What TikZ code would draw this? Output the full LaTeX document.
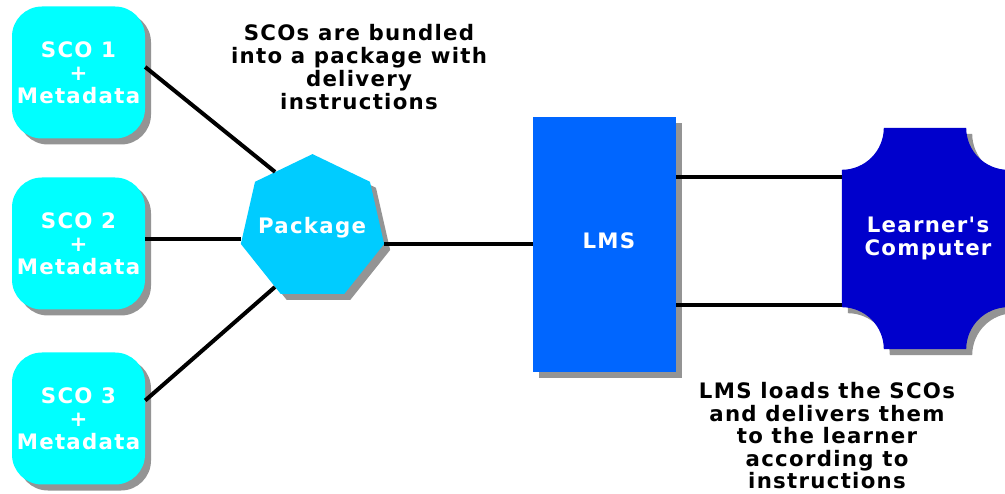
\documentclass[tikz,border=0pt]{standalone}
\usepackage{fontspec}
\newfontfamily\vf[LetterSpace=6,Ligatures=TeXOff,BoldFont={DejaVu Sans Bold}]{DejaVu Sans}
\usetikzlibrary{shapes.geometric,shadows,calc}
\definecolor{scocyan}{RGB}{0,255,255}
\definecolor{pkgblue}{RGB}{0,204,255}
\definecolor{lmsblue}{RGB}{0,102,255}
\definecolor{lcblue}{RGB}{0,0,204}
\begin{document}
\begin{tikzpicture}[x=1pt,y=-1pt,
  txt/.style={font=\vf\bfseries\fontsize{21.3}{23}\selectfont, align=center},
  shad/.style={drop shadow={shadow xshift=6pt,shadow yshift=-6pt,fill=black!42,opacity=1}},
  scobox/.style={txt, shad, fill=scocyan, text=white, rounded corners=30pt,
    minimum width=133pt, minimum height=132pt, inner sep=0pt},
  conn/.style={line width=4pt, black},
]
\useasboundingbox[fill=white] (0,0) rectangle (1005,494);

% SCO boxes
\node[scobox] (sco1) at (78.5,72.5) {SCO 1\\+\\Metadata};
\node[scobox] (sco2) at (78.5,243.5) {SCO 2\\+\\Metadata};
\node[scobox] (sco3) at (78.5,418.5) {SCO 3\\+\\Metadata};

% Package
\node[shad, regular polygon, regular polygon sides=7, minimum size=147pt,
  inner sep=0pt, fill=pkgblue] (pkg) at (312.5,227.6) {};
\node[txt, text=white] (pkgtext) at (312,228) {Package};

% LMS
\node[shad, fill=lmsblue, minimum width=143pt,
  minimum height=255pt, inner sep=0pt] (lms) at (604.5,244.5) {};
\node[txt, text=white] (lmstext) at (609,241) {LMS};

% Learner's computer
\node[minimum width=166pt, minimum height=221pt, inner sep=0pt] (lc) at (925,238.5) {};
\path[shad, fill=lcblue]
  ($(lc.north west)+(42,0)$) -- ($(lc.north east)+(-42,0)$)
  arc[start angle=180,end angle=270,radius=42pt]
  -- ($(lc.south east)+(0,-42)$)
  arc[start angle=90,end angle=180,radius=42pt]
  -- ($(lc.south west)+(42,0)$)
  arc[start angle=0,end angle=90,radius=42pt]
  -- ($(lc.north west)+(0,42)$)
  arc[start angle=-90,end angle=0,radius=42pt]
  -- cycle;
\node[txt, text=white] (lctext) at (928,238) {Learner's\\Computer};

% connectors
\coordinate (y1) at (0,67);
\coordinate (y2) at (0,239);
\coordinate (y3) at (0,400.5);
\coordinate (y4) at (0,177);
\coordinate (y5) at (0,305);
\draw[conn] (sco1.east |- y1) -- ($(pkg.corner 1)!0.65!(pkg.corner 2)$);
\draw[conn] (sco2.east |- y2) -- (pkg.corner 3 |- y2);
\draw[conn] (sco3.east |- y3) -- ($(pkg.corner 3)!0.86!(pkg.corner 4)$);
\draw[conn] (pkg.corner 6) -- (lms.west |- pkg.corner 6);
\draw[conn] (lms.east |- y4) -- (lc.west |- y4);
\draw[conn] (lms.east |- y5) -- (lc.west |- y5);

% annotations
\node[txt] (note1) at (359,67) {SCOs are bundled\\into a package with\\delivery\\instructions};
\node[txt, font=\vf\bfseries\fontsize{21.3}{22.5}\selectfont] (note2) at (827,436) {LMS loads the SCOs\\and delivers them\\to the learner\\according to\\instructions};
\end{tikzpicture}
\end{document}
